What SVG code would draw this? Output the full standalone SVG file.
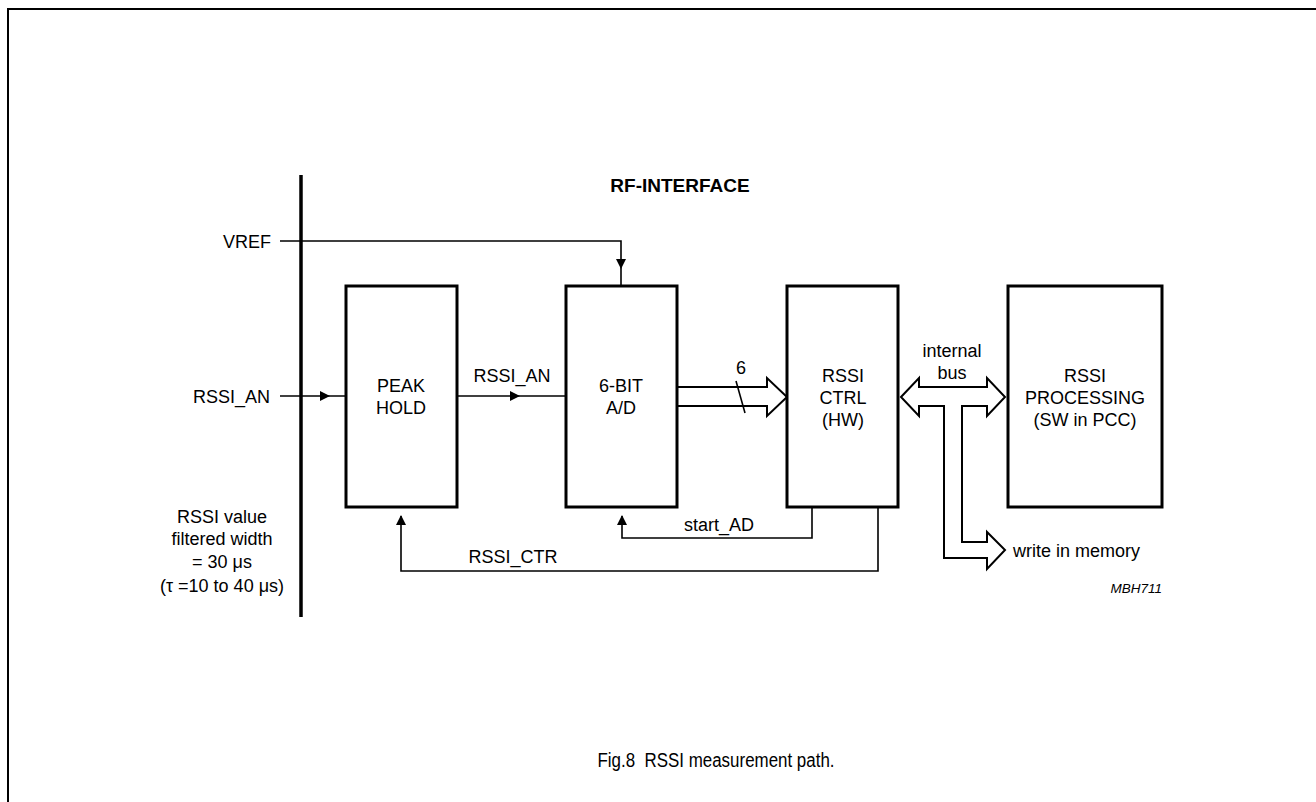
<svg xmlns="http://www.w3.org/2000/svg" width="1316" height="802" viewBox="0 0 1316 802">
<defs>
<style>
text{font-family:"Liberation Sans",Arial,sans-serif;font-size:18px;fill:#000}
.c{text-anchor:middle}
.e{text-anchor:end}
.box{fill:#fff;stroke:#000;stroke-width:3}
.ln{fill:none;stroke:#000;stroke-width:1.6}
.wide{fill:#fff;stroke:#000;stroke-width:2;stroke-linejoin:miter}
.ah{fill:#000;stroke:none}
</style>
</defs>
<rect width="1316" height="802" fill="#fff"/>
<rect x="8" y="9" width="1320" height="810" fill="none" stroke="#000" stroke-width="2"/>
<line x1="301" y1="175" x2="301" y2="617" stroke="#000" stroke-width="3.5"/>
<text x="680" y="192" class="c" style="font-weight:bold;font-size:19px">RF-INTERFACE</text>

<g id="connectors">
<path class="ln" d="M280,241 H621 V286"/>
<polygon class="ah" points="616,259 626,259 621,269"/>
<path class="ln" d="M280,396 H346"/>
<polygon class="ah" points="320,391 320,401 330,396"/>
<path class="ln" d="M457,396 H566"/>
<polygon class="ah" points="510,391 510,401 520,396"/>
<path class="ln" d="M812,507 V538 H622 V516"/>
<polygon class="ah" points="617,525 627,525 622,515"/>
<path class="ln" d="M878,507 V571 H401 V516"/>
<polygon class="ah" points="396,525 406,525 401,515"/>
<path class="wide" d="M677,387 H767 V378 L787,397 L767,416 V406 H677"/>
<line class="ln" x1="736" y1="381" x2="745" y2="413"/>
<path class="wide" d="M901,397 L919,378 V387 H987 V378 L1005,397 L987,416 V406 H962 V542 H987 V532 L1005,550 L987,569 V558 H944 V406 H919 V416 Z"/>
</g>

<g id="labels">
<text x="271" y="248" class="e">VREF</text>
<text x="270" y="403" class="e">RSSI_AN</text>
<text x="512" y="382" class="c">RSSI_AN</text>
<text x="741" y="374" class="c">6</text>
<text x="952" y="357" class="c">internal</text>
<text x="952" y="379" class="c">bus</text>
<text x="719" y="531" class="c">start_AD</text>
<text x="513" y="563" class="c">RSSI_CTR</text>
<text x="1013" y="557">write in memory</text>
<text x="1162" y="593" class="e" style="font-style:italic;font-size:13.5px">MBH711</text>
<text x="222" y="523" class="c">RSSI value</text>
<text x="222" y="545" class="c">filtered width</text>
<text x="222" y="568" class="c">= 30 μs</text>
<text x="222" y="592" class="c">(τ =10 to 40 μs)</text>
</g>

<g id="peak-hold">
<rect class="box" x="346" y="286" width="111" height="221"/>
<text x="401" y="392" class="c">PEAK</text>
<text x="401" y="414" class="c">HOLD</text>
</g>
<g id="adc">
<rect class="box" x="566" y="286" width="111" height="221"/>
<text x="621" y="392" class="c">6-BIT</text>
<text x="621" y="414" class="c">A/D</text>
</g>
<g id="rssi-ctrl">
<rect class="box" x="787" y="286" width="111" height="221"/>
<text x="843" y="382" class="c">RSSI</text>
<text x="843" y="404" class="c">CTRL</text>
<text x="843" y="426" class="c">(HW)</text>
</g>
<g id="rssi-processing">
<rect class="box" x="1008" y="286" width="154" height="221"/>
<text x="1085" y="382" class="c">RSSI</text>
<text x="1085" y="404" class="c">PROCESSING</text>
<text x="1085" y="426" class="c">(SW in PCC)</text>
</g>

<text x="716" y="767" class="c" style="font-size:20px" textLength="237" lengthAdjust="spacingAndGlyphs">Fig.8&#160; RSSI measurement path.</text>
</svg>
